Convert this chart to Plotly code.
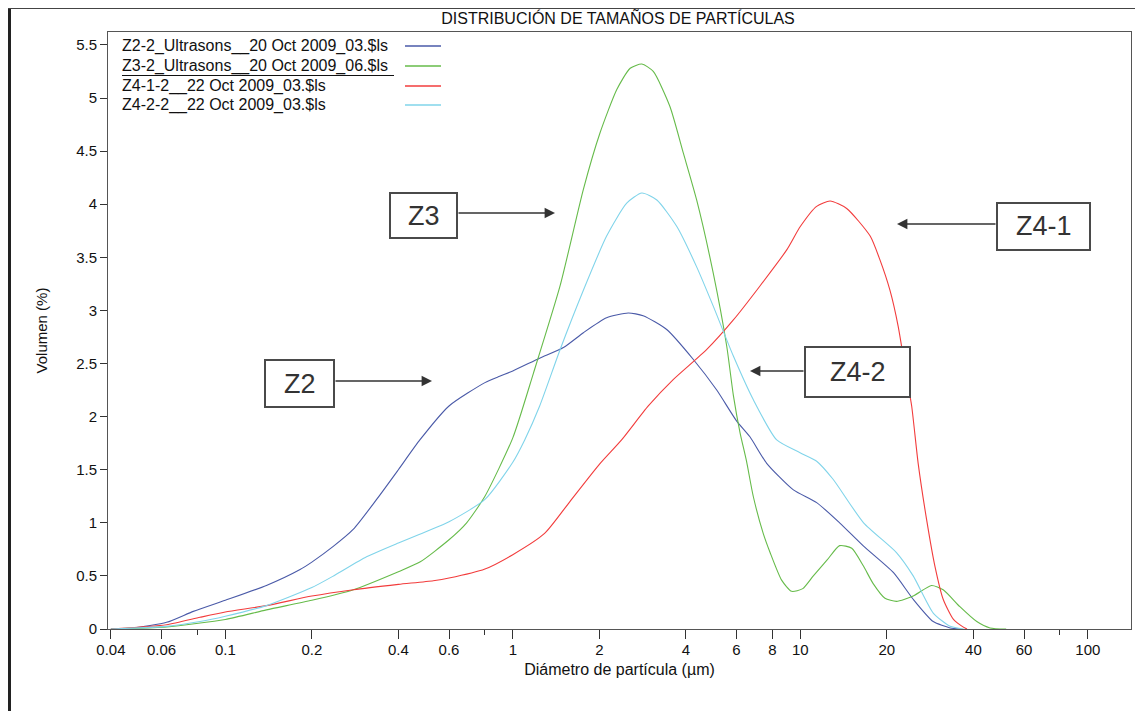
import plotly.graph_objects as go

# ---------------- data ----------------
diam_z2 = [0.04, 0.048, 0.0625, 0.0774, 0.1, 0.139, 0.182, 0.2, 0.238, 0.279, 0.336, 0.4, 0.475, 0.6, 0.8,
           0.9, 1.0, 1.24, 1.5, 1.76, 2.12, 2.52, 2.84, 3.43, 4.24, 5.12, 6.0, 6.68, 7.64, 9.46, 11.4,
           13.7, 16.6, 21.1, 24.7, 29.0, 33.2, 36.0]
vol_z2 = [0, 0.01, 0.063, 0.166, 0.27, 0.41, 0.56, 0.63, 0.78, 0.94, 1.22, 1.50, 1.78, 2.10, 2.32,
          2.38, 2.43, 2.55, 2.65, 2.79, 2.93, 2.975, 2.95, 2.82, 2.54, 2.25, 1.96, 1.81, 1.56, 1.31, 1.19,
          1.00, 0.78, 0.53, 0.28, 0.07, 0.01, 0]

diam_z3 = [0.04, 0.0625, 0.1, 0.139, 0.2, 0.279, 0.4, 0.475, 0.6, 0.691, 0.8, 1.0, 1.18, 1.46, 1.76,
           2.01, 2.30, 2.56, 2.81, 3.08, 3.52, 3.92, 4.36, 4.98, 5.55, 5.85, 6.17, 6.5, 6.86, 7.43, 7.85,
           8.61, 9.33, 10.2, 11.1, 12.4, 13.7, 15.1, 16.6, 17.9, 19.7, 21.6, 24.7, 28.6, 31.4, 35.9,
           41.1, 45.7, 52.0]
vol_z3 = [0, 0.02, 0.09, 0.18, 0.27, 0.37, 0.54, 0.63, 0.84, 1.00, 1.25, 1.80, 2.41, 3.23, 4.14,
          4.67, 5.08, 5.28, 5.32, 5.25, 4.92, 4.48, 4.04, 3.35, 2.66, 2.20, 1.85, 1.58, 1.25, 0.90, 0.72,
          0.46, 0.355, 0.38, 0.50, 0.65, 0.785, 0.76, 0.59, 0.43, 0.29, 0.26, 0.31, 0.41, 0.37, 0.21,
          0.07, 0.01, 0]

diam_z41 = [0.04, 0.0625, 0.0817, 0.1, 0.139, 0.2, 0.279, 0.4, 0.529, 0.6, 0.8, 1.0, 1.29, 1.58, 2.0,
            2.39, 2.96, 3.62, 4.72, 5.85, 7.24, 8.97, 10.0, 11.4, 12.7, 14.5, 17.5, 18.9, 20.5, 21.9,
            23.5, 24.4, 25.7, 27.5, 29.4, 31.4, 34.1, 36.8, 38.0]
vol_z41 = [0, 0.04, 0.11, 0.16, 0.22, 0.31, 0.37, 0.42, 0.455, 0.48, 0.565, 0.70, 0.90, 1.20, 1.55,
           1.78, 2.10, 2.35, 2.63, 2.91, 3.23, 3.57, 3.79, 3.98, 4.03, 3.96, 3.70, 3.48, 3.19, 2.85,
           2.35, 2.10, 1.56, 1.03, 0.59, 0.28, 0.09, 0.02, 0]

diam_z42 = [0.04, 0.0625, 0.0817, 0.1, 0.139, 0.2, 0.238, 0.310, 0.4, 0.463, 0.6, 0.8, 1.0, 1.10, 1.24,
            1.46, 1.76, 2.12, 2.49, 2.81, 3.17, 3.72, 4.36, 4.98, 5.85, 6.86, 8.28, 9.98, 11.4, 13.0,
            16.6, 21.6, 24.7, 29.0, 33.2, 37.0]
vol_z42 = [0, 0.025, 0.07, 0.12, 0.22, 0.39, 0.50, 0.68, 0.81, 0.88, 1.01, 1.22, 1.57, 1.78, 2.10,
           2.63, 3.19, 3.70, 4.01, 4.105, 4.04, 3.79, 3.41, 3.04, 2.57, 2.16, 1.78, 1.66, 1.58, 1.41,
           1.00, 0.72, 0.50, 0.15, 0.025, 0]

series_names = ["Z2-2_Ultrasons__20 Oct 2009_03.$ls",
                "Z3-2_Ultrasons__20 Oct 2009_06.$ls",
                "Z4-1-2__22 Oct 2009_03.$ls",
                "Z4-2-2__22 Oct 2009_03.$ls"]
series_colors = ["#4a5aa8", "#66bb4a", "#f23c3c", "#80d4ea"]

x_tickvals = [0.04, 0.06, 0.1, 0.2, 0.4, 0.6, 1, 2, 4, 6, 8, 10, 20, 40, 60, 100]
x_ticktext = ["0.04", "0.06", "0.1", "0.2", "0.4", "0.6", "1", "2", "4", "6", "8", "10", "20", "40", "60", "100"]
x_minor = [0.08, 0.8, 80]
y_tickvals = [0, 0.5, 1, 1.5, 2, 2.5, 3, 3.5, 4, 4.5, 5, 5.5]
y_ticktext = ["0", "0.5", "1", "1.5", "2", "2.5", "3", "3.5", "4", "4.5", "5", "5.5"]

# ---------------- layout geometry (screen pixels of the reference) ----------------
OFF = 8                      # default page margin of the browser body
W, H = 1143 - OFF, 711 - OFF
L, R, T, B = 108, 1131, 32, 629


def xp(px):
    return (px - L) / (R - L)


def yp(py):
    return (B - py) / (B - T)


FONT = "Liberation Sans, Arial, sans-serif"

fig = go.Figure()
for d, v, name, col in zip([diam_z2, diam_z3, diam_z41, diam_z42],
                           [vol_z2, vol_z3, vol_z41, vol_z42],
                           series_names, series_colors):
    fig.add_trace(go.Scatter(x=d, y=v, mode="lines", name=name,
                             line=dict(color=col, width=1.1, shape="spline", smoothing=0.6),
                             showlegend=False))

annotations = []
shapes = []

# legend (text left, line sample right)
leg_y = [46, 66, 86, 105]
for i, (name, col) in enumerate(zip(series_names, series_colors)):
    annotations.append(dict(x=xp(120), y=yp(leg_y[i]), xref="paper", yref="paper",
                            text=name, showarrow=False, xanchor="left", yanchor="middle",
                            font=dict(family=FONT, size=16, color="#111")))
    shapes.append(dict(type="line", xref="paper", yref="paper",
                       x0=xp(405), x1=xp(441), y0=yp(leg_y[i]), y1=yp(leg_y[i]),
                       line=dict(color=col, width=1.5)))
shapes.append(dict(type="line", xref="paper", yref="paper",
                   x0=xp(122), x1=xp(394), y0=yp(75.5), y1=yp(75.5),
                   line=dict(color="#111", width=1)))

# labelled boxes with arrows
boxes = [("Z3", 390, 457, 193, 238), ("Z2", 265, 334, 360, 407),
         ("Z4-1", 997, 1090, 203, 250), ("Z4-2", 805, 910, 347, 397)]
for txt, x0, x1, y0, y1 in boxes:
    shapes.append(dict(type="rect", xref="paper", yref="paper",
                       x0=xp(x0), x1=xp(x1), y0=yp(y0), y1=yp(y1),
                       line=dict(color="#4a4a4a", width=2), fillcolor="white"))
    annotations.append(dict(x=xp((x0 + x1) / 2), y=yp((y0 + y1) / 2), xref="paper", yref="paper",
                            text=txt, showarrow=False, xanchor="center", yanchor="middle",
                            font=dict(family=FONT, size=27, color="#333")))

arrows = [(457, 213, 555, 213), (334, 381, 432, 381), (997, 224, 897, 224), (805, 371, 750, 371)]
for tx, ty, hx, hy in arrows:
    annotations.append(dict(x=xp(hx), y=yp(hy), xref="paper", yref="paper", text="",
                            showarrow=True, arrowhead=2, arrowsize=1.3, arrowwidth=1.6,
                            arrowcolor="#333", ax=tx - hx, ay=ty - hy))

# frame lines of the screenshot (left thick bar, top line)
shapes.append(dict(type="line", xref="paper", yref="paper",
                   x0=xp(OFF + 1.5), x1=xp(OFF + 1.5), y0=yp(OFF), y1=yp(711),
                   line=dict(color="#222", width=3)))
shapes.append(dict(type="line", xref="paper", yref="paper",
                   x0=xp(OFF), x1=xp(1143), y0=yp(OFF + 0.5), y1=yp(OFF + 0.5),
                   line=dict(color="#444", width=1.2)))

xlo = (L - 512.8) / 287.5
xhi = (R - 512.8) / 287.5

fig.update_layout(
    width=W, height=H,
    margin=dict(l=L - OFF, r=W - (R - OFF), t=T - OFF, b=H - (B - OFF)),
    paper_bgcolor="white", plot_bgcolor="white",
    font=dict(family=FONT, size=15, color="#111"),
    title=dict(text="DISTRIBUCIÓN DE TAMAÑOS DE PARTÍCULAS", xref="paper", x=xp(618), xanchor="center",
               yref="container", y=1 - (18 - OFF) / H, yanchor="middle",
               font=dict(family=FONT, size=16, color="#111")),
    xaxis=dict(type="log", range=[xlo, xhi], tickmode="array", tickvals=x_tickvals, ticktext=x_ticktext,
               ticks="outside", ticklen=9, tickwidth=1, tickcolor="#333",
               showline=True, linecolor="#555", linewidth=1, mirror=True,
               showgrid=False, zeroline=False, ticklabelstandoff=-2,
               minor=dict(tickmode="array", tickvals=x_minor, ticks="outside", ticklen=5,
                          tickcolor="#333", showgrid=False),
               tickfont=dict(family=FONT, size=15, color="#111"),
               title=dict(text="Diámetro de partícula (µm)", standoff=6,
                          font=dict(family=FONT, size=16, color="#111"))),
    yaxis=dict(range=[0, (B - T) / 106.2], tickmode="array", tickvals=y_tickvals, ticktext=y_ticktext,
               ticks="outside", ticklen=7, tickwidth=1, tickcolor="#333",
               showline=True, linecolor="#555", linewidth=1, mirror=True,
               showgrid=False, zeroline=False,
               tickfont=dict(family=FONT, size=15, color="#111"),
               title=dict(text="Volumen (%)", standoff=24,
                          font=dict(family=FONT, size=15, color="#111"))),
    annotations=annotations,
    shapes=shapes,
)

fig.write_html("out.html")
